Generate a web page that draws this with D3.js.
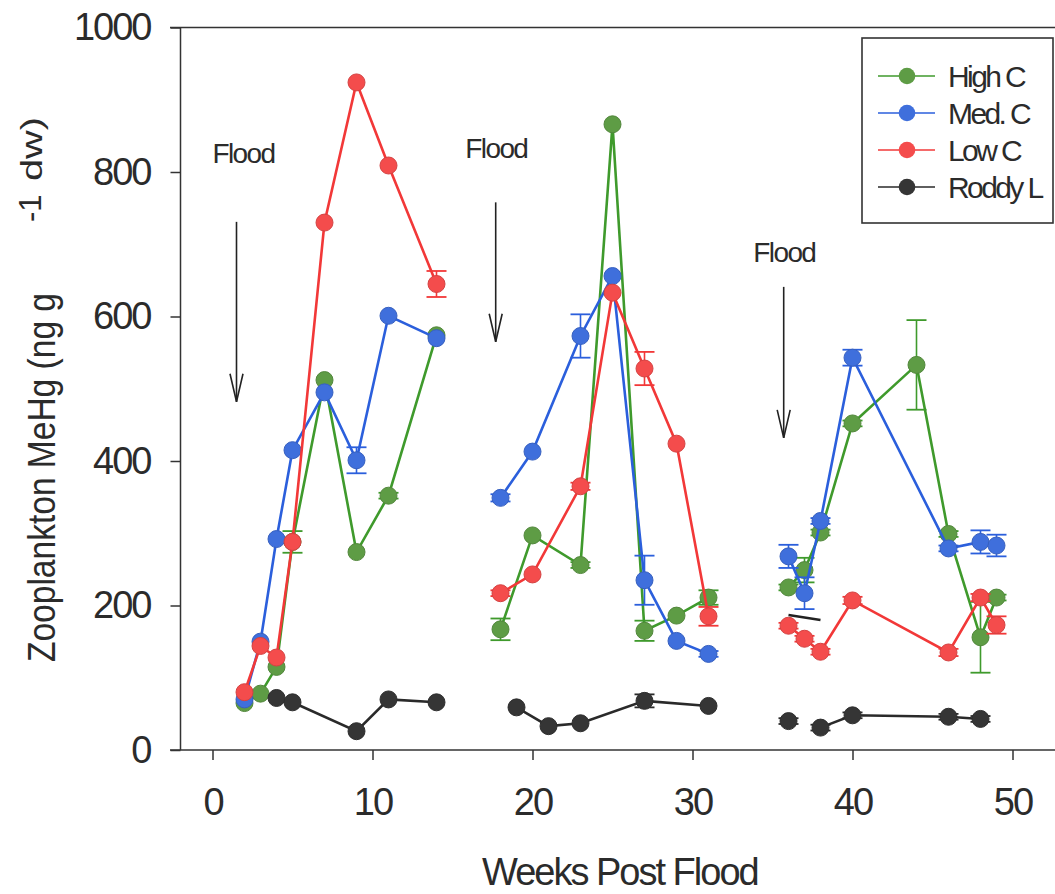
<!DOCTYPE html>
<html>
<head>
<meta charset="utf-8">
<script src="https://cdn.jsdelivr.net/npm/d3@7"></script>
<style>
  body { margin: 0; background: #fff; }
  text { font-family: "Liberation Sans", Arial, Helvetica, sans-serif; fill: #2b2b2b; }
</style>
</head>
<body>
<div id="chart"></div>
<script>
// weeks post flood, null = break between flood periods
const highWeeks  = [2, 3, 4, 5, 7, 9, 11, 14, null, 18, 20, 23, 25, 27, 29, 31, null, 36, 37, 38, 40, 44, 46, 48, 49];
const highValues = [65, 78, 115, 288, 512, 274, 352, 574, null, 167, 297, 256, 866, 165, 186, 211, null, 225, 249, 301, 452, 533, 299, 156, 211];
const highErr    = [0, 0, 0, 15, 0, 0, 4, 0, null, 15, 0, 4, 0, 14, 0, 10, null, 4, 17, 4, 4, 62, 4, 49, 4];

const medWeeks  = [2, 3, 4, 5, 7, 9, 11, 14, null, 18, 20, 23, 25, 27, 29, 31, null, 36, 37, 38, 40, 46, 48, 49];
const medValues = [70, 150, 292, 415, 495, 401, 601, 570, null, 349, 413, 573, 656, 235, 151, 133, null, 268, 217, 317, 543, 279, 288, 283];
const medErr    = [0, 0, 0, 0, 0, 18, 0, 0, null, 5, 0, 30, 0, 34, 0, 4, null, 16, 22, 4, 11, 4, 16, 15];

const lowWeeks  = [2, 3, 4, 5, 7, 9, 11, 14, null, 18, 20, 23, 25, 27, 29, 31, null, 36, 37, 38, 40, 46, 48, 49];
const lowValues = [80, 144, 128, 288, 730, 924, 809, 645, null, 217, 243, 365, 633, 528, 424, 185, null, 172, 154, 136, 207, 135, 211, 173];
const lowErr    = [0, 0, 0, 0, 0, 0, 0, 18, null, 4, 0, 5, 0, 23, 0, 13, null, 4, 4, 4, 5, 5, 5, 12];

const roddyWeeks  = [4, 5, 9, 11, 14, null, 19, 21, 23, 27, 31, null, 36, null, 38, 40, 46, 48];
const roddyValues = [72, 66, 26, 70, 66, null, 59, 33, 37, 68, 61, null, 40, null, 31, 48, 46, 43];
const roddyErr    = [0, 0, 0, 0, 0, null, 0, 0, 0, 9, 0, null, 4, null, 4, 4, 4, 4];

const seriesNames = ["High C", "Med. C", "Low C", "Roddy L"];
const lineColors = ["#3f9a2c", "#2b5fdc", "#f23838", "#2a2a2a"];
const dotColors = ["#5e9c45", "#3f6fdc", "#f44c4c", "#353535"];

const xTicks = [0, 10, 20, 30, 40, 50];
const yTicks = [0, 200, 400, 600, 800, 1000];

// flood markers: week, arrow top, arrow tip, label week, label value
const floodWeek   = [1.5, 17.7, 35.7];
const floodTop    = [731, 758, 641];
const floodTip    = [482, 565, 432];
const floodLabelX = [0.0, 15.8, 33.8];
const floodLabelY = [812, 819, 675];

// small stray stroke near week 36-38
const strayWeeks = [36, 38];
const strayValues = [187, 180];

const W = 1055, H = 894;
const x = d3.scaleLinear().domain([-2, 53.5]).range([180.5, 180.5 + 55.5 * 16]);
const y = d3.scaleLinear().domain([0, 1000]).range([750, 27.5]);

const svg = d3.select("#chart").append("svg")
    .attr("width", W).attr("height", H);
svg.append("rect").attr("width", W).attr("height", H).attr("fill", "#fff");

// frame lines
svg.append("line").attr("x1", 170).attr("x2", W).attr("y1", y(1000)).attr("y2", y(1000))
    .attr("stroke", "#333").attr("stroke-width", 1.5);
svg.append("line").attr("x1", 170).attr("x2", W).attr("y1", y(0)).attr("y2", y(0))
    .attr("stroke", "#333").attr("stroke-width", 1.5);
svg.append("line").attr("x1", x(-2)).attr("x2", x(-2)).attr("y1", y(1000)).attr("y2", y(0))
    .attr("stroke", "#333").attr("stroke-width", 1.5);

// axes
const xAxis = svg.append("g")
    .attr("transform", "translate(0," + y(0) + ")")
    .call(d3.axisBottom(x).tickValues(xTicks).tickFormat(d3.format("d"))
        .tickSize(10).tickPadding(28).tickSizeOuter(0));
xAxis.select(".domain").remove();
const yAxis = svg.append("g")
    .attr("transform", "translate(" + x(-2) + ",0)")
    .call(d3.axisLeft(y).tickValues(yTicks).tickFormat(d3.format("d"))
        .tickSize(10).tickPadding(20).tickSizeOuter(0));
yAxis.select(".domain").remove();
svg.selectAll(".tick line").attr("stroke", "#333").attr("stroke-width", 1.5);
svg.selectAll(".tick text")
    .attr("font-family", "'Liberation Sans', Arial, sans-serif")
    .style("font-size", "38px").style("letter-spacing", "-2px").attr("fill", "#2b2b2b");

// axis titles
svg.append("text").attr("x", 482).attr("y", 885)
    .style("font-size", "38px").style("letter-spacing", "-2px")
    .text("Weeks Post Flood");

svg.append("text")
    .attr("transform", "translate(55,662) rotate(-90)")
    .style("font-size", "39px")
    .attr("textLength", 369).attr("lengthAdjust", "spacingAndGlyphs")
    .text("Zooplankton MeHg (ng g");
svg.append("text")
    .attr("transform", "translate(41,222) rotate(-90)")
    .style("font-size", "31px")
    .text("-1");
svg.append("text")
    .attr("transform", "translate(42,181) rotate(-90)")
    .style("font-size", "30px")
    .attr("textLength", 64).attr("lengthAdjust", "spacingAndGlyphs")
    .text("dw)");

// flood annotations
floodWeek.forEach((w, i) => {
    const ax = x(w), top = y(floodTop[i]), tip = y(floodTip[i]);
    svg.append("line").attr("x1", ax).attr("x2", ax).attr("y1", top).attr("y2", tip)
        .attr("stroke", "#222").attr("stroke-width", 1.6);
    svg.append("path")
        .attr("d", `M${ax - 6.5},${tip - 28} L${ax},${tip} L${ax + 6.5},${tip - 28}`)
        .attr("fill", "none").attr("stroke", "#222").attr("stroke-width", 1.6);
    svg.append("text").attr("x", x(floodLabelX[i])).attr("y", y(floodLabelY[i]))
        .style("font-size", "28px").style("letter-spacing", "-1.6px")
        .text("Flood");
});

// series
const series = [
    { weeks: highWeeks, values: highValues, err: highErr },
    { weeks: medWeeks, values: medValues, err: medErr },
    { weeks: lowWeeks, values: lowValues, err: lowErr },
    { weeks: roddyWeeks, values: roddyValues, err: roddyErr }
].map((s, i) => ({
    name: seriesNames[i],
    line: lineColors[i],
    dot: dotColors[i],
    points: s.weeks.map((w, j) => ({ week: w, value: s.values[j], err: s.err[j] }))
}));

const line = d3.line()
    .defined(d => d.week !== null)
    .x(d => x(d.week))
    .y(d => y(d.value));

series.forEach(s => {
    const g = svg.append("g");
    g.append("path")
        .attr("d", line(s.points))
        .attr("fill", "none")
        .attr("stroke", s.line)
        .attr("stroke-width", 2.6);
    const pts = s.points.filter(d => d.week !== null);
    // error bars
    pts.filter(d => d.err > 0).forEach(d => {
        const cx = x(d.week);
        g.append("line").attr("x1", cx).attr("x2", cx)
            .attr("y1", y(d.value + d.err)).attr("y2", y(d.value - d.err))
            .attr("stroke", s.line).attr("stroke-width", 1.6);
        [d.value + d.err, d.value - d.err].forEach(v => {
            g.append("line").attr("x1", cx - 10).attr("x2", cx + 10)
                .attr("y1", y(v)).attr("y2", y(v))
                .attr("stroke", s.line).attr("stroke-width", 1.8);
        });
    });
    g.selectAll("circle").data(pts).enter().append("circle")
        .attr("cx", d => x(d.week))
        .attr("cy", d => y(d.value))
        .attr("r", 8.5)
        .attr("fill", s.dot)
        .attr("stroke", d3.color(s.dot).darker(0.4))
        .attr("stroke-width", 1);
});

// stray stroke
svg.append("line")
    .attr("x1", x(strayWeeks[0])).attr("y1", y(strayValues[0]))
    .attr("x2", x(strayWeeks[1])).attr("y2", y(strayValues[1]))
    .attr("stroke", "#222").attr("stroke-width", 2.5);

// legend
const legend = svg.append("g");
legend.append("rect").attr("x", 862).attr("y", 38).attr("width", 191).attr("height", 185)
    .attr("fill", "#fff").attr("stroke", "#333").attr("stroke-width", 1.6);
series.forEach((s, i) => {
    const ly = 76 + i * 37;
    legend.append("line").attr("x1", 878).attr("x2", 935).attr("y1", ly).attr("y2", ly)
        .attr("stroke", s.line).attr("stroke-width", 1.6);
    legend.append("circle").attr("cx", 907).attr("cy", ly).attr("r", 8.3)
        .attr("fill", s.dot);
    legend.append("text").attr("x", 948).attr("y", ly + 11)
        .style("font-size", "30px").style("letter-spacing", "-2.6px")
        .text(s.name);
});
</script>
</body>
</html>
